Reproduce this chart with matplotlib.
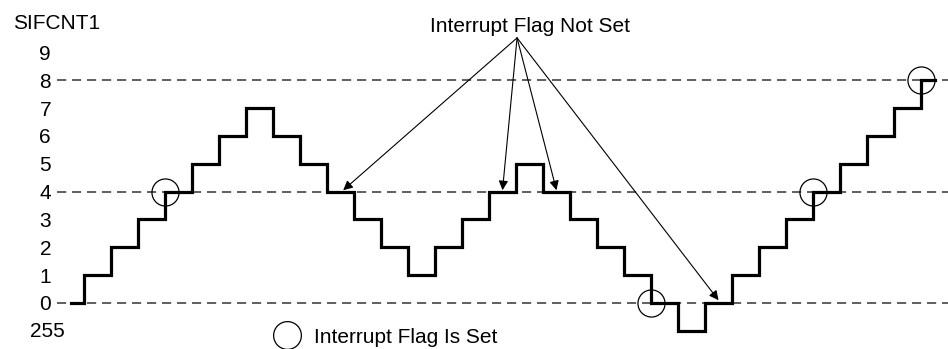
import matplotlib
matplotlib.use("Agg")
import matplotlib.pyplot as plt

plt.rcParams['font.family'] = ['Liberation Sans', 'DejaVu Sans']

# Data
step_edges = [-0.5] + list(range(0, 32)) + [31.5]
counter_levels = [0, 1, 2, 3, 4, 5, 6, 7, 6, 5, 4, 3, 2, 1, 2, 3, 4, 5, 4, 3, 2, 1,
                  0, -1, 0, 1, 2, 3, 4, 5, 6, 7, 8]
threshold_levels = [0, 4, 8]
set_x = [3, 21, 27, 31]
set_y = [4, 0, 4, 8]
notset_x = [9.6, 15.5, 17.5, 23.5]
notset_y = [4.05, 4.05, 4.05, 0.1]
tick_values = [-1, 0, 1, 2, 3, 4, 5, 6, 7, 8, 9]
tick_labels = ['255', '0', '1', '2', '3', '4', '5', '6', '7', '8', '9']

W, H = 948, 349
fig = plt.figure(figsize=(W / 100, H / 100), dpi=100)
ax = fig.add_axes([0, 0, 1, 1])
ax.set_xlim(-84 / 27, (W - 84) / 27)
ax.set_ylim(-(H - 303) / 27.85, 303 / 27.85)
ax.axis('off')

FS = 15

# dashed threshold lines
for lv in threshold_levels:
    ax.plot([-1.0, 32.5], [lv, lv], color='#444444', lw=1.2, dashes=(5.5, 3.5), zorder=1)

# step line
ys = counter_levels + [counter_levels[-1]]
ax.plot(step_edges, ys, drawstyle='steps-post', color='black', lw=2.3,
        solid_joinstyle='miter', zorder=2)

# circles where interrupt flag is set
ax.plot(set_x, set_y, 'o', ms=19.5, mfc='none', mec='black', mew=0.9, zorder=3)

# y labels
for v, lab in zip(tick_values, tick_labels):
    if lab == '255':
        ax.text(-1.35, v + 0.06, lab, ha='center', va='center_baseline', fontsize=FS)
    else:
        ax.text(-1.22, v, lab, ha='right', va='center_baseline', fontsize=FS)
ax.text(-2.64, 9.83, 'SIFCNT1', ha='left', va='baseline', fontsize=FS)

# annotation arrows
src = (16.04, 9.52)
for tx, ty in zip(notset_x, notset_y):
    ax.annotate('', xy=(tx, ty), xytext=src,
                arrowprops=dict(arrowstyle='-|>', color='black', lw=0.8,
                                mutation_scale=14, shrinkA=0, shrinkB=0))
ax.text(12.81, 9.74, 'Interrupt Flag Not Set', ha='left', va='baseline', fontsize=FS)

# legend-like note
ax.plot([7.5], [-1.15], 'o', ms=20, mfc='none', mec='black', mew=0.9)
ax.text(8.5, -1.436, 'Interrupt Flag Is Set', ha='left', va='baseline', fontsize=FS)

fig.savefig('out.png', dpi=100)
